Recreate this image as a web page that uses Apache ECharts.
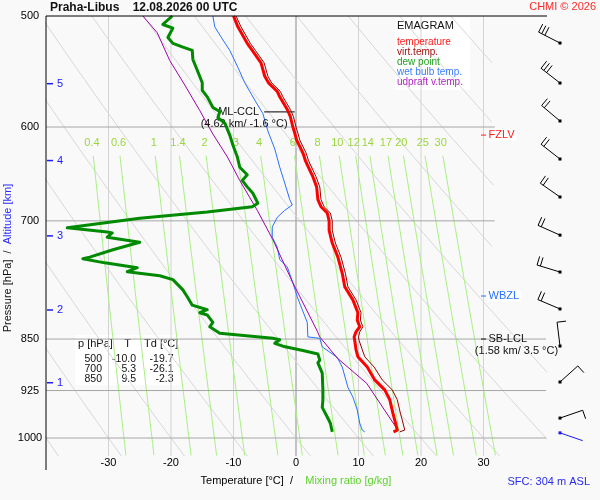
<!DOCTYPE html>
<html>
<head>
<meta charset="utf-8">
<title>Emagram Praha-Libus</title>
<script src="https://cdn.jsdelivr.net/npm/echarts@6/dist/echarts.min.js"></script>
<style>
html,body{margin:0;padding:0;background:#f9f9f9;}
#chart{width:600px;height:500px;}
</style>
</head>
<body>
<div id="chart"></div>
<script>
// ===================== DATA =====================
const stationTitle = 'Praha-Libus    12.08.2026 00 UTC';
const copyrightText = 'CHMI \u00A9 2026';
const surfaceText = 'SFC: 304 m ASL';

const pressureLabels = [500, 600, 700, 850, 925, 1000];
const isobars = [600, 700, 850, 925, 1000];
const isotherms = [-30, -20, -10, 0, 10, 20, 30];
const adiabatT1000 = [-40, -30, -20, -10, 0, 10, 20, 30, 40, 50, 60, 70, 80, 90];
const mixingRatios = [0.4, 0.6, 1, 1.4, 2, 3, 4, 6, 8, 10, 12, 14, 17, 20, 25, 30];

// temperature [°C] vs pressure [hPa]
const tempPres = [500,509,523,529,540,552,558,566,571,583,590,600,606,613,626,634,644,651,662,676,684,691,700,711,726,743,763,780,797,814,824,833,840,847,852,865,875,890,909,924,939,960,971,987,990];
const tempVals = [-10.0,-9.3,-7.8,-7.0,-5.6,-5.0,-4.4,-3.0,-2.6,-1.4,-0.9,-0.5,-0.2,0.1,1.1,1.5,2.2,2.7,3.3,3.5,4.0,5.0,5.3,5.3,5.8,6.7,7.4,7.8,9.1,9.9,9.8,10.2,9.6,9.3,9.4,9.6,9.9,11.4,12.6,14.2,15.0,15.5,15.8,16.2,15.6];
// virtual temperature
const virtPres = [500,509,523,529,540,552,558,566,571,583,590,600,606,613,626,634,644,651,662,676,684,691,700,711,726,743,763,780,797,814,824,833,840,847,852,865,875,890,909,924,939,960,971,987,990];
const virtVals = [-9.6,-8.8,-7.3,-6.5,-5.1,-4.5,-3.9,-2.5,-2.1,-0.9,-0.4,0.0,0.3,0.6,1.6,2.0,2.7,3.2,3.8,4.0,4.5,5.5,5.8,5.8,6.3,7.2,7.9,8.3,9.6,10.4,10.3,10.7,10.2,10.0,10.1,10.6,11.0,12.5,13.8,15.4,16.2,16.7,17.0,17.4,16.6];
// dew point
const dewPres = [500,507,510,518,523,526,529,537,548,558,565,571,581,585,591,596,608,618,630,641,649,655,662,669,680,684,690,697,708,713,714,719,725,734,743,745,750,756,761,766,771,784,793,804,810,814,817,827,833,842,849,851,856,860,866,871,880,884,899,924,940,951,966,976,990];
const dewVals = [-19.8,-21.3,-19.7,-20.5,-19.7,-18.2,-16.6,-16.5,-15.7,-15.0,-15.0,-14.2,-13.3,-12.2,-12.5,-11.4,-10.6,-10.1,-9.4,-9.0,-7.8,-8.6,-7.8,-6.9,-6.1,-7.0,-14.2,-25.0,-36.6,-30.2,-29.4,-30.2,-25.0,-29.3,-33.0,-34.1,-30.6,-25.4,-27.0,-21.8,-19.7,-18.1,-17.4,-16.6,-14.2,-15.4,-14.2,-13.3,-13.8,-12.2,-3.7,-2.6,-3.4,-2.1,1.1,3.5,3.8,3.5,4.2,4.3,4.3,4.2,5.0,5.5,5.8];
// wet bulb temperature
const wbPres = [500,509,520,529,544,558,574,587,604,622,641,658,676,682,688,696,707,719,731,746,755,775,793,810,827,847,849,861,876,890,920,935,955,976,987,990];
const wbVals = [-13.3,-13.0,-11.7,-10.6,-9.3,-8.2,-6.6,-5.3,-4.5,-3.4,-2.6,-1.8,-1.0,-0.6,-1.8,-3.0,-3.8,-3.8,-3.0,-2.6,-1.4,-0.5,0.2,1.0,1.8,1.9,3.8,4.2,6.6,7.4,8.3,9.1,9.8,10.2,10.6,11.0];
// updraft virtual temperature
const updPres = [500,514,538,560,584,607,630,655,688,722,775,839,847,877,914,987];
const updVals = [-24.5,-22.2,-20.2,-17.8,-15.4,-13.3,-11.0,-9.0,-6.2,-3.7,-0.5,3.4,3.8,6.6,11.3,16.3];

// wind barbs (every 0.5 km + surface)
const windPres  = [522.7,558.2,594.1,632.4,673.1,716.6,761.4,809.0,859.8,912.1,967.8,991.6];
const windDir   = [297,308,310,308,305,294,287,293,353,48,71,109];
const windSpeed = [30,30,20,20,20,20,20,20,10,10,10,3];

// altitude marks
const altKm   = [1, 2, 3, 4, 5];
const altPres = [913.2, 810.4, 717.5, 634.0, 558.8];

// special levels
const levelNames  = ['FZLV', 'WBZL', 'SB-LCL'];
const levelPres   = [608, 792, 850];
const levelColors = ['#ff1a1a', '#2a6fff', '#111111'];
const lclInfo = '(1.58 km/ 3.5 \u00B0C)';
const cclName = 'ML-CCL';
const cclInfo = '(4.62 km/ -1.6 \u00B0C)';
const cclPres = 585.3;
const cclTemps = [-5.1, -0.2];

// table
const tableHeader = ['p [hPa]', 'T', 'Td [\u00B0C]'];
const tableP  = ['500', '700', '850'];
const tableT  = ['-10.0', '5.3', '9.5'];
const tableTd = ['-19.7', '-26.1', '-2.3'];

// legend
const legendNames  = ['temperature', 'virt.temp.', 'dew point', 'wet bulb temp.', 'udpraft v.temp.'];
const legendColors = ['#ff1a1a', '#a01010', '#22a022', '#3a7cff', '#b028c0'];

// ===================== CHART =====================
const FONT = '"Liberation Sans", Arial, Helvetica, sans-serif';
const P_TOP = 500, P_BOT = 1030, T_MIN = -40, T_MAX = 40;
const KAPPA = 0.2857;
const UPPER_T_LIMIT = 31.8, UPPER_P_LIMIT = 780;

function pairs(P, V) { return P.map((p, i) => [V[i], p]); }
function dewFromMix(w, p) {
  const e = w * p / (622 + w);
  const g = Math.log(e / 6.112);
  return 243.5 * g / (17.67 - g);
}

const series = [];
function addLine(name, data, color, width, z, extra) {
  series.push(Object.assign({
    type: 'line', name: name, data: data, symbol: 'none', showSymbol: false,
    silent: true, animation: false, smooth: false, clip: true, z: z,
    lineStyle: { color: color, width: width, join: 'round' },
    emphasis: { disabled: true }
  }, extra || {}));
}

// isotherms
isotherms.forEach(t => addLine('', [[t, P_TOP], [t, P_BOT]], t === 0 ? '#8c8c8c' : '#d3d3d3', 1, 1));
// dry adiabats
adiabatT1000.forEach(t0 => {
  const th = t0 + 273.15;
  const pts = [];
  for (let p = P_TOP; p <= P_BOT; p += 5) {
    const T = th * Math.pow(p / 1000, KAPPA) - 273.15;
    if (T > UPPER_T_LIMIT && p < UPPER_P_LIMIT) break;
    pts.push([T, p]);
  }
  if (pts.length > 1) addLine('', pts, '#d6d6d6', 1, 1);
});
// mixing ratio lines
mixingRatios.forEach(w => {
  const pts = [];
  for (let p = 629; p <= P_BOT; p += 20) pts.push([dewFromMix(w, p), p]);
  pts.push([dewFromMix(w, P_BOT), P_BOT]);
  addLine('', pts, '#a9ef84', 1, 2);
});
// isobars
isobars.forEach(p => addLine('', [[T_MIN, p], [p < UPPER_P_LIMIT ? UPPER_T_LIMIT : T_MAX, p]], '#a6a6a6', 1, 2));
// mixing ratio labels
series.push({
  type: 'custom', silent: true, animation: false, clip: false, z: 3,
  coordinateSystem: 'cartesian2d', encode: { x: 0, y: 1 },
  data: mixingRatios.map(w => [dewFromMix(w, 616), 616, w]),
  renderItem: (params, api) => {
    const c = api.coord([api.value(0), api.value(1)]);
    return { type: 'text', x: c[0], y: c[1], style: { text: String(api.value(2)), fill: '#9bd63c', fontSize: 11, fontFamily: FONT, align: 'center', verticalAlign: 'middle' } };
  }
});

// profiles
addLine('wet bulb temp.', pairs(wbPres, wbVals), '#2a6fff', 1, 5);
addLine('udpraft v.temp.', pairs(updPres, updVals), '#a000a8', 1, 5);
addLine('virt.temp.', pairs(virtPres, virtVals), '#960000', 1, 6);
addLine('temperature', pairs(tempPres, tempVals), '#ff0000', 3, 7);
addLine('dew point', pairs(dewPres, dewVals), '#008a00', 3, 7);

// frame lines
addLine('', [[T_MIN, P_TOP], [47, P_TOP]], '#000', 1, 10, { clip: false });
addLine('', [[T_MIN, P_TOP], [T_MIN, 1054]], '#000', 1, 10, { clip: false });

// altitude marks
series.push({
  type: 'custom', silent: true, animation: false, clip: false, z: 8,
  coordinateSystem: 'cartesian2d', encode: { x: 0, y: 1 },
  data: altPres.map((p, i) => [T_MIN, p, altKm[i]]),
  renderItem: (params, api) => {
    const c = api.coord([api.value(0), api.value(1)]);
    return { type: 'group', children: [
      { type: 'line', shape: { x1: c[0] + 1, y1: c[1], x2: c[0] + 7, y2: c[1] }, style: { stroke: '#1a1aff', lineWidth: 1.5 } },
      { type: 'text', x: c[0] + 11, y: c[1], style: { text: String(api.value(2)), fill: '#1a1aff', fontSize: 11, fontFamily: FONT, align: 'left', verticalAlign: 'middle' } }
    ]};
  }
});

// special levels
series.push({
  type: 'custom', silent: true, animation: false, clip: false, z: 8,
  coordinateSystem: 'cartesian2d', encode: { x: 0, y: 1 },
  data: levelPres.map((p, i) => [30, p, i]),
  renderItem: (params, api) => {
    const c = api.coord([api.value(0), api.value(1)]);
    const i = api.value(2);
    const col = levelColors[i];
    const ch = [
      { type: 'line', shape: { x1: c[0] - 2.5, y1: c[1], x2: c[0] + 2.5, y2: c[1] }, style: { stroke: col, lineWidth: 1 } },
      { type: 'text', x: c[0] + 4, y: c[1], style: { text: levelNames[i], fill: col, fontSize: 11, fontFamily: FONT, align: 'left', verticalAlign: 'middle',
          backgroundColor: i < 2 ? '#ffffff' : 'transparent', padding: [1, 2, 0, 1] } }
    ];
    if (i === 2) ch.push({ type: 'text', x: c[0] + 33, y: c[1] + 11.5, style: { text: lclInfo, fill: '#111', fontSize: 11, fontFamily: FONT, align: 'center', verticalAlign: 'middle' } });
    return { type: 'group', children: ch };
  }
});

// ML-CCL
series.push({
  type: 'custom', silent: true, animation: false, clip: false, z: 6,
  coordinateSystem: 'cartesian2d', encode: { x: 0, y: 1 },
  data: [[cclTemps[0], cclPres, cclTemps[1]]],
  renderItem: (params, api) => {
    const a = api.coord([api.value(0), api.value(1)]);
    const b = api.coord([api.value(2), api.value(1)]);
    return { type: 'group', children: [
      { type: 'line', shape: { x1: a[0], y1: a[1], x2: b[0], y2: b[1] }, style: { stroke: '#000', lineWidth: 1 } },
      { type: 'text', x: a[0] - 5, y: a[1], style: { text: cclName, fill: '#111', fontSize: 11, fontFamily: FONT, align: 'right', verticalAlign: 'middle' } },
      { type: 'text', x: a[0] - 20, y: a[1] + 12, style: { text: cclInfo, fill: '#111', fontSize: 11, fontFamily: FONT, align: 'center', verticalAlign: 'middle' } }
    ]};
  }
});

// wind barbs
const BARB_DX = 14, STAFF = 24, BARB_LEN = 9, BARB_STEP = 3.5;
series.push({
  type: 'custom', silent: true, animation: false, clip: false, z: 8,
  coordinateSystem: 'cartesian2d', encode: { x: 0, y: 1 },
  data: windPres.map((p, i) => [T_MAX, p, windDir[i], windSpeed[i]]),
  renderItem: (params, api) => {
    const c = api.coord([api.value(0), api.value(1)]);
    const dir = api.value(2), spd = api.value(3);
    const col = params.dataIndex === windPres.length - 1 ? '#1a1aff' : '#000';
    const x0 = c[0] + BARB_DX, y0 = c[1];
    const a = dir * Math.PI / 180;
    const ux = Math.sin(a), uy = -Math.cos(a);
    const b = a + Math.PI / 2;
    const bx = Math.sin(b), by = -Math.cos(b);
    const ch = [
      { type: 'rect', shape: { x: x0 - 1.5, y: y0 - 1.5, width: 3, height: 3 }, style: { fill: col } },
      { type: 'line', shape: { x1: x0, y1: y0, x2: x0 + ux * STAFF, y2: y0 + uy * STAFF }, style: { stroke: col, lineWidth: 1 } }
    ];
    let rest = spd, k = 0;
    while (rest >= 10) {
      const d = STAFF - k * BARB_STEP;
      const sx = x0 + ux * d, sy = y0 + uy * d;
      ch.push({ type: 'line', shape: { x1: sx, y1: sy, x2: sx + bx * BARB_LEN, y2: sy + by * BARB_LEN }, style: { stroke: col, lineWidth: 1 } });
      rest -= 10; k++;
    }
    if (rest >= 5) {
      const d = STAFF - k * BARB_STEP;
      const sx = x0 + ux * d, sy = y0 + uy * d;
      ch.push({ type: 'line', shape: { x1: sx, y1: sy, x2: sx + bx * BARB_LEN / 2, y2: sy + by * BARB_LEN / 2 }, style: { stroke: col, lineWidth: 1 } });
    }
    return { type: 'group', children: ch };
  }
});

// table graphic
const tableChildren = [
  { type: 'rect', shape: { x: 75, y: 335, width: 105, height: 50 }, style: { fill: '#ffffff' } },
  { type: 'text', x: 78, y: 344, style: { text: tableHeader[0], fill: '#111', fontSize: 11, fontFamily: FONT, align: 'left', verticalAlign: 'middle' } },
  { type: 'text', x: 127.5, y: 344, style: { text: tableHeader[1], fill: '#111', fontSize: 11, fontFamily: FONT, align: 'center', verticalAlign: 'middle' } },
  { type: 'text', x: 144, y: 344, style: { text: tableHeader[2], fill: '#111', fontSize: 11, fontFamily: FONT, align: 'left', verticalAlign: 'middle' } }
];
tableP.forEach((p, i) => {
  const y = 359 + i * 10;
  tableChildren.push({ type: 'text', x: 102, y: y, style: { text: p, fill: '#111', fontSize: 10.5, fontFamily: FONT, align: 'right', verticalAlign: 'middle' } });
  tableChildren.push({ type: 'text', x: 136, y: y, style: { text: tableT[i], fill: '#111', fontSize: 10.5, fontFamily: FONT, align: 'right', verticalAlign: 'middle' } });
  tableChildren.push({ type: 'text', x: 173.5, y: y, style: { text: tableTd[i], fill: '#111', fontSize: 10.5, fontFamily: FONT, align: 'right', verticalAlign: 'middle' } });
});

const option = {
  backgroundColor: '#f9f9f9',
  animation: false,
  textStyle: { fontFamily: FONT },
  grid: { left: 46, top: 16, width: 500, height: 440, outerBoundsMode: 'none', containLabel: false },
  xAxis: {
    type: 'value', min: T_MIN, max: T_MAX, interval: 10,
    axisLine: { show: false }, axisTick: { show: false }, splitLine: { show: false },
    axisLabel: { showMinLabel: false, showMaxLabel: false, margin: 1, fontSize: 11, color: '#000', fontFamily: FONT },
    name: '{a|Temperature [\u00B0C]  /    }{b|Mixing ratio [g/kg]}',
    nameLocation: 'middle', nameGap: 19,
    nameTextStyle: { rich: {
      a: { color: '#000', fontSize: 11, fontFamily: FONT },
      b: { color: '#5ed22e', fontSize: 11, fontFamily: FONT }
    } }
  },
  yAxis: {
    type: 'log', logBase: 10, min: P_TOP, max: P_BOT, inverse: true,
    axisLine: { show: false }, axisTick: { show: false }, splitLine: { show: false }, minorSplitLine: { show: false },
    axisLabel: { customValues: pressureLabels, formatter: v => String(v), align: 'center', margin: 16, fontSize: 11, color: '#000', fontFamily: FONT }
  },
  legend: {
    orient: 'vertical', left: 392, top: 37, padding: 0, itemGap: 0,
    itemWidth: 0, itemHeight: 0, icon: 'rect', selectedMode: false,
    itemStyle: { opacity: 0 }, lineStyle: { opacity: 0, width: 0 },
    textStyle: { fontSize: 10, lineHeight: 10, fontFamily: FONT },
    data: legendNames.map((n, i) => ({ name: n, textStyle: { color: legendColors[i] } }))
  },
  graphic: [
    { type: 'rect', z: 0, shape: { x: 395, y: 18, width: 75, height: 72 }, style: { fill: '#ffffff' } },
    { type: 'text', z: 10, x: 397, y: 26, style: { text: 'EMAGRAM', fill: '#111', fontSize: 11, fontFamily: FONT, align: 'left', verticalAlign: 'middle' } },
    { type: 'text', z: 10, x: 50, y: 7.5, style: { text: stationTitle, fill: '#111', fontSize: 12, fontWeight: 'bold', fontFamily: FONT, align: 'left', verticalAlign: 'middle' } },
    { type: 'text', z: 10, x: 596, y: 7, style: { text: copyrightText, fill: '#ff2a2a', fontSize: 11, fontFamily: FONT, align: 'right', verticalAlign: 'middle' } },
    { type: 'text', z: 10, x: 590, y: 481.5, style: { text: surfaceText, fill: '#2a2aee', fontSize: 11, fontFamily: FONT, align: 'right', verticalAlign: 'middle' } },
    { type: 'text', z: 10, x: 8, y: 258, rotation: Math.PI / 2,
      style: { text: '{a|Pressure [hPa]}  /  {b|Altitude [km]}', fill: '#111', fontSize: 11, fontFamily: FONT,
               align: 'center', verticalAlign: 'middle',
               rich: { a: { fill: '#111', fontSize: 11, fontFamily: FONT }, b: { fill: '#2a2aff', fontSize: 11, fontFamily: FONT } } } },
    { type: 'group', z: 4, children: tableChildren }
  ],
  series: series
};

const chart = echarts.init(document.getElementById('chart'), null, { renderer: 'canvas', width: 600, height: 500 });
chart.setOption(option);
</script>
</body>
</html>
